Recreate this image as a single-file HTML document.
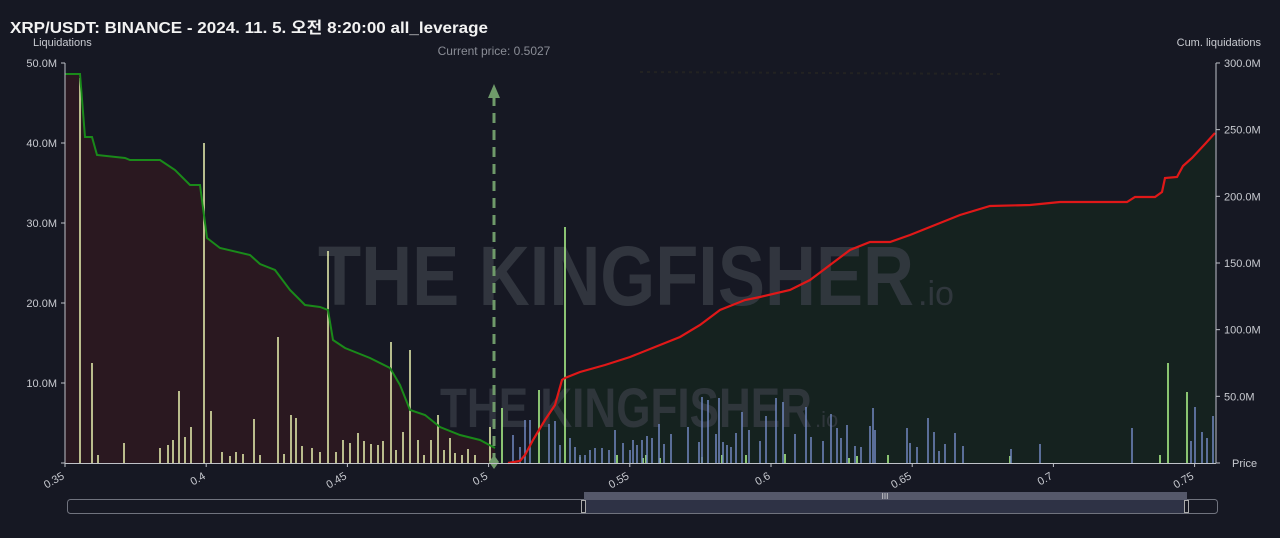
<!DOCTYPE html>
<html><head><meta charset="utf-8"><style>
html,body{margin:0;padding:0;background:#161823;width:1280px;height:538px;overflow:hidden}
svg{display:block;font-family:"Liberation Sans","Noto Sans CJK KR",sans-serif}
</style></head><body>
<svg id="s" width="1280" height="538" viewBox="0 0 1280 538">
<rect width="1280" height="538" fill="#161823"/>
<path d="M65,463 L65,74 L80,74 L85,137 L92,137 L97,155 L125,158 L130,160 L160,160 L175,170 L190,185 L200,185 L207,238 L220,248 L250,255 L260,264 L275,270 L290,290 L305,305 L320,307 L328,310 L333,340 L345,348 L370,358 L390,368 L400,385 L410,410 L425,415 L440,427 L460,435 L480,440 L495,448 L495,463 Z" fill="#2a1820"/>
<path d="M508,463 L520,461 L525,455 L533,440 L545,420 L555,405 L562,380 L565,378 L580,372 L605,365 L630,357 L660,345 L680,337 L700,325 L720,310 L745,300 L760,297 L790,290 L810,280 L830,265 L850,250 L870,242 L890,242 L910,235 L930,227 L960,215 L990,206 L1030,205 L1060,202 L1127,202 L1135,197 L1155,197 L1162,192 L1165,178 L1177,177 L1183,166 L1192,158 L1205,144 L1215,133 L1215,463 Z" fill="#15221f"/>
<text x="318" y="305" font-size="84" font-weight="bold" fill="#3a3f48" opacity="0.75" textLength="596" lengthAdjust="spacingAndGlyphs">THE  KINGFISHER</text>
<text x="918" y="305" font-size="34" fill="#3a3f48" opacity="0.75">.io</text>
<text x="440" y="427" font-size="56" font-weight="bold" fill="#3a3f48" opacity="0.7" textLength="372" lengthAdjust="spacingAndGlyphs">THE  KINGFISHER</text>
<text x="815" y="427" font-size="22" fill="#3a3f48" opacity="0.7">.io</text>
<g id="bars"></g>
<path d="M65,74 L80,74 L85,137 L92,137 L97,155 L125,158 L130,160 L160,160 L175,170 L190,185 L200,185 L207,238 L220,248 L250,255 L260,264 L275,270 L290,290 L305,305 L320,307 L328,310 L333,340 L345,348 L370,358 L390,368 L400,385 L410,410 L425,415 L440,427 L460,435 L480,440 L495,448" fill="none" stroke="#1a8a1a" stroke-width="2"/>
<path d="M508,463 L520,461 L525,455 L533,440 L545,420 L555,405 L562,380 L565,378 L580,372 L605,365 L630,357 L660,345 L680,337 L700,325 L720,310 L745,300 L760,297 L790,290 L810,280 L830,265 L850,250 L870,242 L890,242 L910,235 L930,227 L960,215 L990,206 L1030,205 L1060,202 L1127,202 L1135,197 L1155,197 L1162,192 L1165,178 L1177,177 L1183,166 L1192,158 L1205,144 L1215,133" fill="none" stroke="#e01818" stroke-width="2.2"/>
<line x1="494" y1="96" x2="494" y2="460" stroke="#6f9a6a" stroke-width="3" stroke-dasharray="10,7"/>
<path d="M488,98 L494,84 L500,98 Z" fill="#6f9a6a"/>
<path d="M494,455 L499,462 L494,469 L489,462 Z" fill="#6f9a6a"/>
<text x="494" y="55" font-size="12" fill="#8a8d96" text-anchor="middle">Current price: 0.5027</text>
<g stroke="#222" stroke-width="2" stroke-dasharray="3,4"><line x1="640" y1="72" x2="1000" y2="74"/></g>
<line x1="65" y1="63" x2="65" y2="463" stroke="#bfc2c8" stroke-width="1"/>
<line x1="1216" y1="63" x2="1216" y2="463" stroke="#bfc2c8" stroke-width="1"/>
<line x1="65" y1="463.5" x2="1216" y2="463.5" stroke="#bfc2c8" stroke-width="1"/>
<g font-size="11" fill="#c8cad0" text-anchor="end" id="ly"></g>
<g font-size="11" fill="#c8cad0" id="ry"></g>
<g font-size="11" fill="#c8cad0" id="xt"></g>
<text x="10" y="33" font-size="16" font-weight="bold" fill="#f2f2f2" textLength="478" lengthAdjust="spacingAndGlyphs">XRP/USDT: BINANCE - 2024. 11. 5. 오전 8:20:00 all_leverage</text>
<text x="33" y="46" font-size="11" fill="#c8cad0">Liquidations</text>
<text x="1261" y="46" font-size="11" fill="#c8cad0" text-anchor="end">Cum. liquidations</text>
<text x="1232" y="467" font-size="11" fill="#c8cad0">Price</text>
<rect x="67.5" y="499.5" width="1150" height="14" rx="3" fill="#161823" stroke="#70737e"/>
<rect x="584" y="500" width="603" height="13" fill="#2e3245"/>
<rect x="584" y="492" width="603" height="8" fill="#55586a"/>
<text x="885" y="499" font-size="8" fill="#ddd" text-anchor="middle">III</text>
<rect x="581.5" y="500.5" width="4" height="12" fill="#161823" stroke="#aaa"/>
<rect x="1184.5" y="500.5" width="4" height="12" fill="#161823" stroke="#aaa"/>
</svg>
<script>
var NS="http://www.w3.org/2000/svg";
function el(p,t,a,txt){var e=document.createElementNS(NS,t);for(var k in a)e.setAttribute(k,a[k]);if(txt)e.textContent=txt;document.getElementById(p).appendChild(e);}
var Y="#dfe6a8",G="#a8ee86",B="#6c82b8";
var yb=[[80,78],[92,363],[98,455],[124,443],[160,448],[168,445],[173,440],[179,391],[185,437],[191,427],[204,143],[211,411],[222,452],[230,456],[236,452],[243,454],[254,419],[260,455],[278,337],[284,454],[291,415],[296,418],[302,446],[312,448],[320,452],[328,251],[336,452],[343,440],[350,443],[358,433],[364,441],[371,444],[378,445],[383,441],[391,342],[396,450],[403,432],[410,350],[418,440],[424,455],[431,440],[438,415],[444,450],[450,438],[455,453],[462,455],[468,449],[475,455],[490,427]];
yb.forEach(function(b){el("bars","line",{x1:b[0],x2:b[0],y1:b[1],y2:463,stroke:Y,"stroke-width":1.6});});
var gb=[[502,408],[539,390],[565,227],[1168,363],[1187,392],[643,458],[646,455],[660,458],[702,457],[722,455],[746,455],[785,454],[849,458],[857,456],[888,455],[1010,456],[1160,455],[580,457],[617,455]];
gb.forEach(function(b){el("bars","line",{x1:b[0],x2:b[0],y1:b[1],y2:463,stroke:G,"stroke-width":1.6});});
var bb=[[513,435],[520,447],[525,420],[530,420],[549,424],[555,421],[560,445],[570,438],[575,447],[580,455],[585,455],[590,450],[595,448],[602,448],[609,450],[615,430],[623,443],[630,450],[633,440],[637,445],[642,440],[647,436],[652,438],[659,424],[664,444],[671,434],[688,427],[699,442],[702,397],[708,400],[716,434],[719,398],[723,442],[727,445],[731,447],[736,433],[742,412],[749,430],[760,441],[766,416],[776,398],[783,402],[795,434],[806,407],[811,437],[823,441],[831,414],[837,428],[841,438],[847,425],[855,446],[861,447],[870,426],[873,408],[875,430],[907,428],[910,443],[917,447],[928,418],[934,432],[939,451],[945,444],[955,433],[963,446],[1011,449],[1040,444],[1132,428],[1191,441],[1195,407],[1202,432],[1207,438],[1213,416]];
bb.forEach(function(b){el("bars","line",{x1:b[0],x2:b[0],y1:b[1],y2:463,stroke:B,"stroke-width":1.6});});
["0","10.0M","20.0M","30.0M","40.0M","50.0M"].forEach(function(t,i){var y=463-i*80;if(i>0){el("ly","text",{x:57,y:y+4},t);}el("ly","line",{x1:61,x2:65,y1:y,y2:y,stroke:"#bfc2c8"});});
["","50.0M","100.0M","150.0M","200.0M","250.0M","300.0M"].forEach(function(t,i){var y=463-i*66.67;if(i>0)el("ry","text",{x:1224,y:y+4},t);el("ry","line",{x1:1216,x2:1220,y1:y,y2:y,stroke:"#bfc2c8"});});
["0.35","0.4","0.45","0.5","0.55","0.6","0.65","0.7","0.75"].forEach(function(t,i){var x=65+i*141.2;el("xt","text",{x:x,y:478,"text-anchor":"end",transform:"rotate(-30 "+x+" 478)"},t);el("xt","line",{x1:x,x2:x,y1:463,y2:467,stroke:"#bfc2c8"});});
</script>
</body></html>
